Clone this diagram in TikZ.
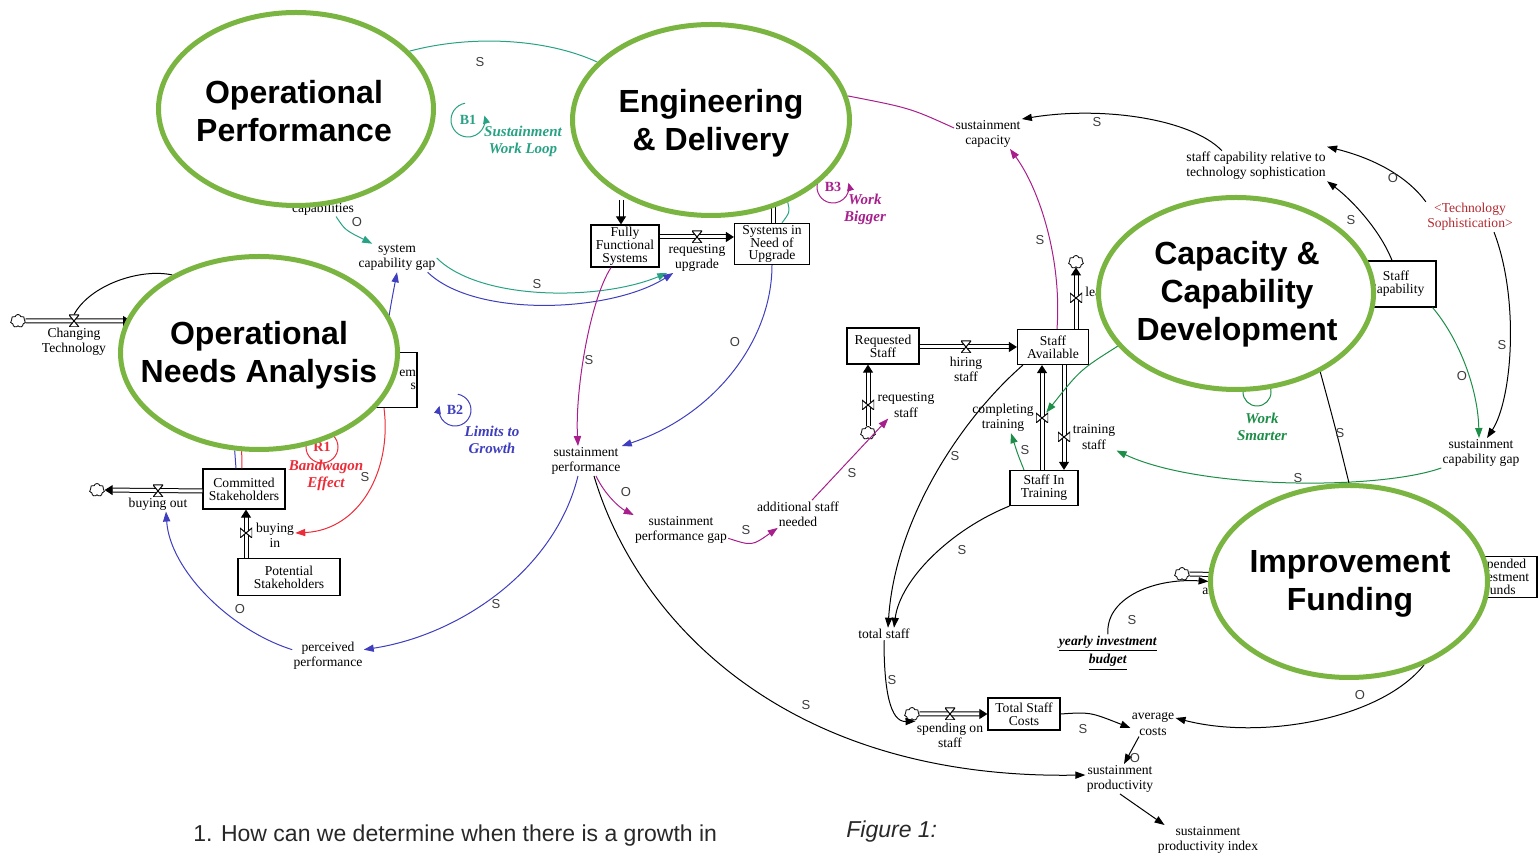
\documentclass[tikz,border=0pt]{standalone}
\usepackage{fontspec}
\setmainfont{Liberation Serif}
\setsansfont{Liberation Sans}
\usetikzlibrary{arrows.meta,shapes.geometric,shapes.symbols}

\definecolor{ongreen}{RGB}{122,181,66}
\definecolor{lteal}{RGB}{40,162,132}
\definecolor{lblue}{RGB}{62,62,190}
\definecolor{lmag}{RGB}{168,30,140}
\definecolor{lred}{RGB}{236,44,56}
\definecolor{lgreen}{RGB}{28,142,72}
\definecolor{dred}{RGB}{178,40,46}
\definecolor{polgrey}{RGB}{60,60,60}
\definecolor{qgrey}{RGB}{40,40,40}

\newcommand{\auxfont}{\fontsize{6.8}{7.6}\selectfont}
\newcommand{\stockfont}{\fontsize{6.8}{6.4}\selectfont}

\pgfdeclarelayer{mid}
\pgfdeclarelayer{front}
\pgfsetlayers{main,mid,front}

\tikzset{
  aux/.style={font=\auxfont, align=center, inner sep=0.5pt},
  stock/.style={draw, line width=0.6pt, fill=white, font=\stockfont, align=center, inner sep=0.5pt},
  focus/.style={ellipse, draw=ongreen, line width=2.5pt, fill=white, inner sep=0pt},
  focustext/.style={font=\sffamily\bfseries\fontsize{16}{19}\selectfont, align=center},
  pol/.style={font=\sffamily\fontsize{6.5}{7}\selectfont, text=polgrey, inner sep=0pt},
  tie/.style={line width=0.5pt},
  link/.style={line width=0.5pt, -{Triangle[length=5pt,width=3.6pt]}},
  pipe/.style={draw, double, double distance=1.5pt, line width=0.5pt},
  flow/.style={pipe, -{Triangle[length=4pt,width=5pt]}},
  valveh/.style={minimum width=5pt, minimum height=6pt, inner sep=0pt,
    path picture={\draw[fill=white, line width=0.5pt] (path picture bounding box.north west) -- (path picture bounding box.north east) -- (path picture bounding box.south west) -- (path picture bounding box.south east) -- cycle;}},
  valvev/.style={minimum width=6pt, minimum height=5pt, inner sep=0pt,
    path picture={\draw[fill=white, line width=0.5pt] (path picture bounding box.north west) -- (path picture bounding box.south west) -- (path picture bounding box.north east) -- (path picture bounding box.south east) -- cycle;}},
  cloudy/.style={cloud, draw, cloud puffs=7, aspect=1.2, minimum width=7.5pt, minimum height=6.5pt, inner sep=0pt, fill=white, line width=0.4pt},
  looptag/.style={font=\bfseries\fontsize{7}{8}\selectfont, inner sep=0pt},
  loopname/.style={font=\bfseries\itshape\fontsize{7.5}{8.5}\selectfont, align=center, inner sep=0pt},
  loopline/.style={line width=0.5pt, -{Triangle[length=4pt,width=3.4pt]}}
}

\begin{document}
\begin{tikzpicture}[x=0.5pt,y=0.5pt,yscale=-1,xscale=1]
\useasboundingbox (0,0) rectangle (1539,860);

% Focus areas
\begin{pgfonlayer}{front}
\node[focus, minimum width=137.5pt, minimum height=96.5pt] (op) at (296,109) {};
\node[focustext] (optxt) at (294,111) {Operational\\Performance};
\node[focus, minimum width=138.5pt, minimum height=95.5pt] (ed) at (711,120) {};
\node[focustext] (edtxt) at (711,123) {Engineering\\\& Delivery};
\node[focus, minimum width=138.5pt, minimum height=96.5pt] (ona) at (259,353) {};
\node[focustext] (onatxt) at (259,355) {Operational\\Needs Analysis};
\node[focus, minimum width=137.5pt, minimum height=96pt] (cap) at (1236,293.5) {};
\node[focustext] (captxt) at (1237,294) {Capacity \&\\Capability\\Development};
\node[focus, minimum width=138.5pt, minimum height=96pt] (if) at (1349,581.5) {};
\node[focustext] (iftxt) at (1350,584) {Improvement\\Funding};
\end{pgfonlayer}

% Stocks
\node[stock, minimum width=34pt, minimum height=21pt] (ffs) at (625,246) {Fully\\Functional\\Systems};
\node[stock, minimum width=37.5pt, minimum height=20.5pt] (sinu) at (772,244) {Systems in\\Need of\\Upgrade};
\node[stock, minimum width=36pt, minimum height=18pt] (reqst) at (883,346) {Requested\\Staff};
\node[stock, minimum width=35.5pt, minimum height=17.5pt] (stav) at (1053,347) {Staff\\Available};
\node[stock, minimum width=34pt, minimum height=17.5pt] (stitr) at (1044,488) {Staff In\\Training};
\node[stock, minimum width=40pt, minimum height=23pt] (stcap) at (1396,284) {Staff\\Capability};
\node[stock, minimum width=38pt, minimum height=20.5pt] (expfund) at (1499,577) {Expended\\Investment\\Funds};
\node[stock, minimum width=36pt, minimum height=16pt] (tsc) at (1024,714) {Total Staff\\Costs};
\node[stock, minimum width=41pt, minimum height=20pt] (comst) at (244,489) {Committed\\Stakeholders};
\node[stock, minimum width=51pt, minimum height=18.5pt] (potst) at (289,577) {Potential\\Stakeholders};
\node[stock, text width=46pt, align=right, minimum height=27.5pt] (rss) at (370,380) {em\\s};

% Variables
\node[aux] (caps) at (323,209) {capabilities};
\node[aux] (sysgap) at (397,258) {system\\capability gap};
\node[aux] (chtech) at (74,342) {Changing\\Technology};
\node[aux] (requpg) at (697,258) {requesting\\upgrade};
\node[aux] (susperf) at (586,461) {sustainment\\performance};
\node[aux] (susgap) at (681,530) {sustainment\\performance gap};
\node[aux] (addstaff) at (798,514) {additional staff\\needed};
\node[aux] (reqstaff) at (906,405) {requesting\\staff};
\node[aux] (hiring) at (966,369) {hiring\\staff};
\node[aux] (completing) at (1003,418) {completing\\training};
\node[aux] (trainst) at (1094,437) {training\\staff};
\node[aux, anchor=west] (leaving) at (1084,293) {leaving};
\node[aux] (suscap) at (988,134) {sustainment\\capacity};
\node[aux] (screl) at (1256,166) {staff capability relative to\\technology sophistication};
\node[aux, text=dred] (techsoph) at (1470,217) {<Technology\\Sophistication>};
\node[aux] (suscapgap) at (1481,453) {sustainment\\capability gap};
\node[aux] (totstaff) at (884,634) {total staff};
\node[aux] (yib) at (1108,653) {\underline{\textbf{\textit{yearly investment}}}\\\underline{\textbf{\textit{budget}}}};
\node[aux] (spending) at (950,735) {spending on\\staff};
\node[aux] (avgcost) at (1153,724) {average\\costs};
\node[aux] (susprod) at (1120,779) {sustainment\\productivity};
\node[aux] (susidx) at (1208,840) {sustainment\\productivity index};
\node[aux] (perceived) at (328,656) {perceived\\performance};
\node[aux] (buyout) at (158,504) {buying out};
\node[aux] (buyin) at (275,535) {buying\\in};
\node[aux, anchor=west] (allocating) at (1201,591) {allocating};

% Clouds
\node[cloudy] (creq) at (868,433) {};
\node[cloudy] (cleave) at (1076,262) {};
\node[cloudy] (cspend) at (912,714) {};
\node[cloudy] (calloc) at (1182,574) {};
\node[cloudy] (cbuyout) at (97,490) {};
\node[cloudy] (cchg) at (18,321) {};
\coordinate (edffs) at (621,200);
\coordinate (edsinu) at (773,200);
\coordinate (ifin) at (1240,575);
\coordinate (chgin) at (131,321);

% Valves
\begin{pgfonlayer}{mid}
\node[valveh] (vupg) at (697,237) {};
\node[valvev] (vreq) at (868,405) {};
\node[valveh] (vhire) at (966,347) {};
\node[valvev] (vleave) at (1076,298) {};
\node[valvev] (vcomp) at (1042,418) {};
\node[valvev] (vtrain) at (1064,437) {};
\node[valveh] (vspend) at (950,714) {};
\node[valveh] (valloc) at (1214,575) {};
\node[valvev] (vbuyin) at (246,533) {};
\node[valveh] (vbuyout) at (158,491) {};
\node[valveh] (vchg) at (74,321) {};
\end{pgfonlayer}

% Flows
\draw[flow] (edffs) -- (edffs |- ffs.north);
\draw[flow] (ffs.east |- vupg) -- (sinu.west |- vupg);
\draw[pipe] (edsinu |- sinu.north) -- (edsinu);
\draw[flow] (creq.north) -- (creq |- reqst.south);
\draw[flow] (reqst.east |- vhire) -- (stav.west |- vhire);
\draw[flow] (cleave |- stav.north) -- (cleave.south);
\draw[flow] (vcomp |- stitr.north) -- (vcomp |- stav.south);
\draw[flow] (vtrain |- stav.south) -- (vtrain |- stitr.north);
\draw[flow] (cspend.east) -- (tsc.west |- cspend);
\draw[pipe] (calloc.east) -- (ifin);
\draw[flow] (vbuyin |- potst.north) -- (vbuyin |- comst.south);
\draw[flow] (comst.west |- vbuyout) -- (cbuyout.east);
\draw[flow] (cchg.east) -- (chgin);

% Links
\draw[tie, lteal] (op.27) .. controls (470,35) and (545,38) .. (ed.153);
\draw[link, lteal] (caps.-30) .. controls (345,230) .. (sysgap.150);
\draw[link, lblue] ([xshift=8pt]rss.north) .. controls (388,320) .. (sysgap.south);
\draw[link, lteal] (sysgap.east) .. controls (480,301) and (600,301) .. (requpg.south west);
\draw[link, lblue] (sysgap.-25) .. controls (475,318) and (610,313) .. ([xshift=3pt]requpg.south west);
\draw[tie, lteal] (ed.-47) .. controls (790,212) .. ([xshift=5pt]sinu.north);
\draw[link, lmag] ([xshift=-7pt]ffs.south) .. controls (590,300) and (575,390) .. ([xshift=-4pt]susperf.north);
\draw[link, lblue] (sinu.south) .. controls (772,340) and (715,415) .. (susperf.north east);
\draw[link, lmag] ([xshift=5pt]susperf.south) .. controls (605,495) and (620,508) .. (susgap.north west);
\draw[link, lmag] (susgap.-10) .. controls (752,546) .. ([xshift=11pt]addstaff.south west);
\draw[link, lmag] ([xshift=7pt]addstaff.north) -- ([xshift=6pt]reqstaff.south west);
\draw[link, lmag] ([xshift=2pt]stav.north) .. controls (1062,260) and (1040,190) .. ([xshift=11pt]suscap.south);
\draw[tie, lmag] (suscap.170) .. controls (910,108) .. (ed.10);
\draw[link] ([xshift=-17pt]screl.north) .. controls (1190,118) and (1100,106) .. (suscap.north east);
\draw[link] (techsoph.north west) .. controls (1410,180) and (1380,160) .. ([yshift=-2pt]screl.north east);
\draw[link] ([xshift=12pt]techsoph.south) .. controls (1520,300) and (1512,400) .. ([xshift=3pt]suscapgap.north);
\draw[link] ([xshift=-2pt]stcap.north) .. controls (1380,230) and (1352,200) .. (screl.south east);
\draw[link, lgreen] ([xshift=-2pt]stcap.south east) .. controls (1460,340) and (1478,390) .. ([xshift=-1pt]suscapgap.north);
\draw[link, lgreen] (suscapgap.south west) .. controls (1380,490) and (1200,490) .. (trainst.south east);
\draw[link, lgreen] ([xshift=-10pt]stitr.north) .. controls (1018,455) .. ([xshift=4pt]completing.south);
\draw[link, lgreen] (cap.204) .. controls (1080,370) .. (vcomp);
\draw[tie] (cap.-43) .. controls (1336,430) .. (if.90);
\draw[link] ([xshift=3pt]stav.south west) .. controls (960,420) and (895,520) .. ([xshift=2pt]totstaff.north);
\draw[link] (stitr.south west) .. controls (950,530) and (900,580) .. ([xshift=5pt]totstaff.north);
\draw[link] (totstaff.south) .. controls (884,690) and (890,722) .. (spending.north west);
\draw[link] (tsc.east) .. controls (1090,712) .. ([yshift=2pt]avgcost.west);
\draw[link] (if.-48) .. controls (1380,720) and (1260,740) .. ([yshift=-3pt]avgcost.east);
\draw[link] ([xshift=-7pt]avgcost.south) -- ([xshift=2pt]susprod.north);
\draw[link] ([xshift=4pt]susperf.south) .. controls (635,615) and (780,780) .. ([yshift=-2pt]susprod.west);
\draw[link] (susprod.south) -- ([xshift=4pt]susidx.north west);
\draw[link] (yib.north) .. controls (1105,600) and (1150,578) .. (valloc.south west);
\draw[link, lblue] ([xshift=-4pt]susperf.south) .. controls (555,570) and (460,635) .. (perceived.10);
\draw[link, lblue] (perceived.170) .. controls (230,630) and (170,570) .. ([xshift=4pt]buyout.south);
\draw[link, lred] ([xshift=7pt]rss.south) .. controls (392,470) and (360,530) .. ([yshift=-1pt]buyin.east);
\draw[tie, lblue] ([xshift=-4pt]comst.north) -- (ona.-104);
\draw[tie, lred] ([xshift=-1pt]comst.north) -- (ona.-100);
\draw[tie] (vchg.north) .. controls (90,285) and (140,268) .. (ona.138);

% Polarities
\node[pol] (p1) at (480,62) {S};
\node[pol] (p2) at (357,222) {O};
\node[pol] (p3) at (537,284) {S};
\node[pol] (p4) at (589,360) {S};
\node[pol] (p5) at (735,342) {O};
\node[pol] (p6) at (626,492) {O};
\node[pol] (p7) at (746,530) {S};
\node[pol] (p8) at (852,473) {S};
\node[pol] (p9) at (1040,240) {S};
\node[pol] (p10) at (1097,122) {S};
\node[pol] (p11) at (1393,178) {O};
\node[pol] (p12) at (1351,220) {S};
\node[pol] (p13) at (1502,345) {S};
\node[pol] (p14) at (1462,376) {O};
\node[pol] (p15) at (1298,478) {S};
\node[pol] (p16) at (1025,450) {S};
\node[pol] (p17) at (1340,433) {S};
\node[pol] (p18) at (955,456) {S};
\node[pol] (p19) at (962,550) {S};
\node[pol] (p20) at (892,680) {S};
\node[pol] (p21) at (1083,729) {S};
\node[pol] (p22) at (1360,695) {O};
\node[pol] (p23) at (1135,758) {O};
\node[pol] (p24) at (806,705) {S};
\node[pol] (p25) at (1132,620) {S};
\node[pol] (p26) at (496,604) {S};
\node[pol] (p27) at (240,609) {O};
\node[pol] (p28) at (365,477) {S};

% Loops
\node[looptag, lteal] (b1) at (468,120) {B1};
\draw[loopline, lteal] (b1.center) ++(-100:17) arc[start angle=-100, end angle=-375, radius=17];
\node[loopname, lteal] (b1name) at (523,141) {Sustainment\\Work Loop};
\node[looptag, lmag] (b3) at (833,187) {B3};
\draw[loopline, lmag] (b3.center) ++(-100:16) arc[start angle=-100, end angle=-375, radius=16];
\node[loopname, lmag] (b3name) at (865,209) {Work\\Bigger};
\node[looptag, lblue] (b2) at (455,410) {B2};
\draw[loopline, lblue] (b2.center) ++(-80:16) arc[start angle=-80, end angle=195, radius=16];
\node[loopname, lblue] (b2name) at (492,440) {Limits to\\Growth};
\node[looptag, lred] (r1) at (322,447) {R1};
\draw[tie, lred] (r1) circle[radius=16];
\node[loopname, lred] (r1name) at (326,475) {Bandwagon\\Effect};
\node[looptag, lgreen] (ws) at (1257,392) {};
\draw[tie, lgreen] (ws) circle[radius=14];
\node[loopname, lgreen] (wsname) at (1262,427) {Work\\Smarter};

% Text Node
\node[anchor=west, font=\sffamily\fontsize{11.5}{13}\selectfont, text=qgrey, inner sep=0pt] (question) at (193,836) {1. How can we determine when there is a growth in};
\node[anchor=west, font=\sffamily\itshape\fontsize{11.5}{13}\selectfont, text=qgrey, inner sep=0pt] (figlabel) at (846,832) {Figure 1:};

\end{tikzpicture}
\end{document}
